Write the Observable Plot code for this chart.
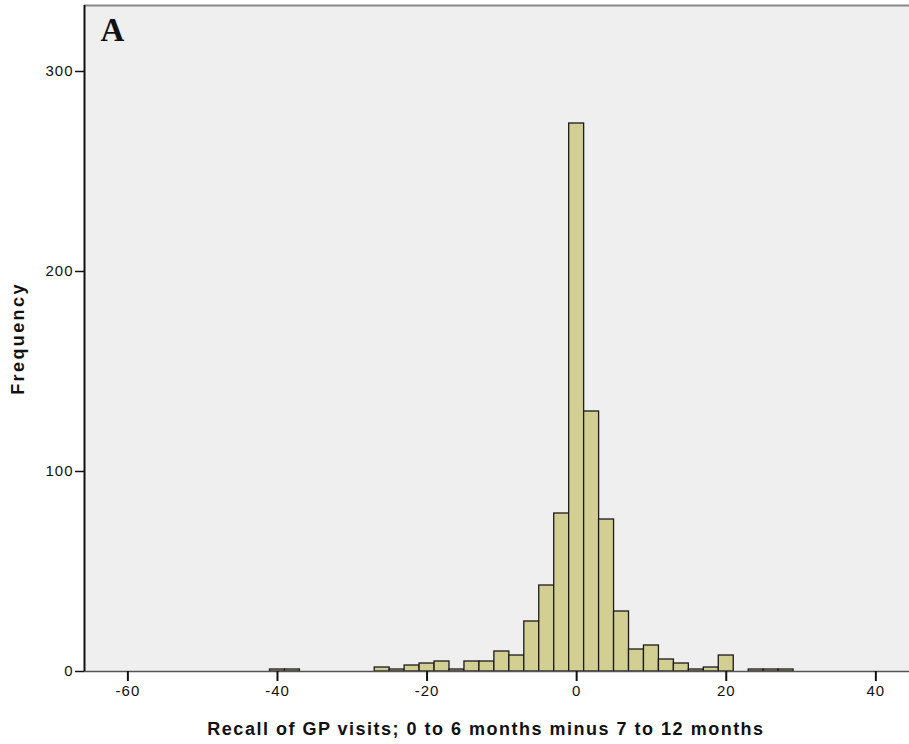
<!DOCTYPE html>
<html>
<head>
<meta charset="utf-8">
<script src="https://cdn.jsdelivr.net/npm/d3@7"></script>
<script src="https://cdn.jsdelivr.net/npm/@observablehq/plot@0.6"></script>
<style>
  html, body { margin: 0; padding: 0; background: #ffffff; }
  #chart { width: 909px; height: 744px; }
</style>
</head>
<body>
<div id="chart"></div>
<script>
// Histogram bins (width 2), centred on even integers
const binCenters = [-40, -38, -26, -24, -22, -20, -18, -16, -14, -12, -10, -8, -6, -4, -2, 0, 2, 4, 6, 8, 10, 12, 14, 16, 18, 20, 24, 26, 28];
const counts     = [  1,   1,   2,   1,   3,   4,   5,   1,   5,   5,  10,   8,  25,  43,  79, 274, 130, 76, 30, 11, 13,  6,  4,  1,  2,  8,  1,  1,  1];
const binWidth = 2;
const xTicks = [-60, -40, -20, 0, 20, 40];
const yTicks = [0, 100, 200, 300];
const xDomain = [-65.8, 44.5];
const yDomain = [0, 333];
const panelLabel = "A";
const xLabel = "Recall of GP visits; 0 to 6 months minus 7 to 12 months";
const yLabel = "Frequency";

const bins = binCenters.map((c, i) => ({x1: c - binWidth / 2, x2: c + binWidth / 2, count: counts[i]}));

const chart = Plot.plot({
  width: 909,
  height: 744,
  marginLeft: 84,
  marginRight: 0,
  marginTop: 5,
  marginBottom: 73,
  style: {fontFamily: "'Liberation Sans', Arial, sans-serif", fontSize: "15px", color: "#111", background: "#ffffff"},
  x: {domain: xDomain},
  y: {domain: yDomain},
  marks: [
    Plot.frame({fill: "#efefef", stroke: null}),
    Plot.ruleY([yDomain[1]], {stroke: "#888", strokeWidth: 2}),
    Plot.rectY(bins, {x1: "x1", x2: "x2", y: "count", fill: "#d3ce92", stroke: "#1a1a1a", strokeWidth: 1.3}),
    Plot.ruleY([0], {stroke: "#555", strokeWidth: 1.5}),
    Plot.ruleX([xDomain[0]], {stroke: "#111", strokeWidth: 2}),
    Plot.axisX({ticks: xTicks, tickSize: 10, tickPadding: 4, fontSize: 15, tickFormat: d => d < 0 ? "-" + Math.abs(d) : String(d), label: null, strokeWidth: 2}),
    Plot.axisY({ticks: yTicks, tickSize: 9, tickPadding: 2, fontSize: 15, label: null, strokeWidth: 1.5}),
    Plot.text([xLabel], {frameAnchor: "bottom", dx: -11, dy: 63, fontSize: 18, fontWeight: "bold", text: d => d, fill: "#111"}),
    Plot.text([yLabel], {frameAnchor: "left", dx: -66, rotate: -90, textAnchor: "middle", fontSize: 18, fontWeight: "bold", text: d => d, fill: "#111"}),
    Plot.text([panelLabel], {frameAnchor: "top-left", dx: 16, dy: 12, fontSize: 33, fontWeight: "bold", fontFamily: "'Liberation Serif', 'Times New Roman', serif", text: d => d, fill: "#111"})
  ]
});
// SPSS-style wide letter spacing on the texts
const tickTexts = new Set([...xTicks, ...yTicks].map(d => d < 0 ? "-" + Math.abs(d) : String(d)));
d3.select(chart).selectAll("text").each(function() {
  const t = this.textContent;
  if (t === xLabel) this.setAttribute("letter-spacing", "1.5px");
  else if (t === yLabel) this.setAttribute("letter-spacing", "2.4px");
  else if (tickTexts.has(t)) this.setAttribute("letter-spacing", "1px");
});
document.getElementById("chart").appendChild(chart);
</script>
</body>
</html>
